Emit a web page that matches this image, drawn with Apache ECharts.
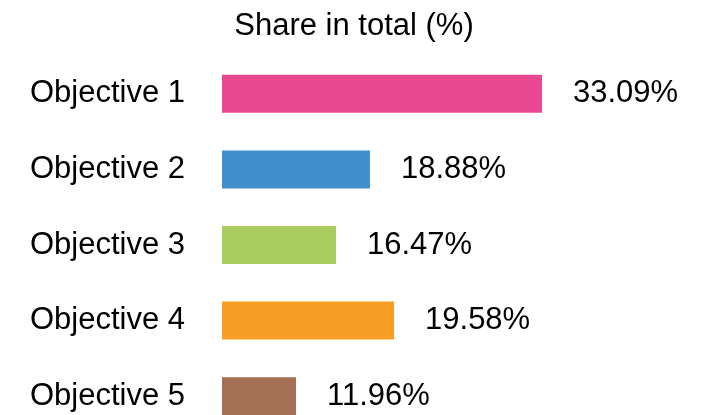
<!DOCTYPE html>
<html>
<head>
<meta charset="utf-8">
<script src="https://cdn.jsdelivr.net/npm/echarts@6/dist/echarts.min.js"></script>
<style>
  html, body { margin: 0; padding: 0; background: #fff; overflow: hidden; }
  /* taller than the window: the last bar is cut off at the bottom edge */
  #chart { width: 708px; height: 440px; }
</style>
</head>
<body>
<div id="chart"></div>
<script>
const categories = ["Objective 1", "Objective 2", "Objective 3", "Objective 4", "Objective 5"];
// bar lengths as drawn in the picture (same scale as Objective 1)
const barValues = [33.09, 15.3, 11.79, 17.79, 7.65];
// printed share labels
const shareLabels = ["33.09%", "18.88%", "16.47%", "19.58%", "11.96%"];
const barColors = ["#e8488f", "#418fcb", "#aacb5e", "#f89e24", "#a36f55"];

const chart = echarts.init(document.getElementById("chart"));
const font = "'Liberation Sans', Arial, sans-serif";

chart.setOption({
  animation: false,
  title: {
    text: "Share in total (%)",
    left: "center",
    top: 6,
    textStyle: { fontFamily: font, fontSize: 31, fontWeight: "normal", color: "#000" },
  },
  grid: { left: 222, width: 320, top: 56, height: 378, containLabel: false },
  xAxis: {
    type: "value",
    min: 0,
    max: 33.09,
    show: false,
  },
  yAxis: {
    type: "category",
    inverse: true,
    data: categories,
    axisLine: { show: false },
    axisTick: { show: false },
    axisLabel: { margin: 37, fontFamily: font, fontSize: 31, color: "#000" },
  },
  series: [
    {
      type: "bar",
      barWidth: 38,
      data: barValues.map((v, i) => ({ value: v, itemStyle: { color: barColors[i] } })),
      label: {
        show: true,
        position: "right",
        distance: 31,
        fontFamily: font,
        fontSize: 31,
        color: "#000",
        formatter: (p) => shareLabels[p.dataIndex],
      },
    },
  ],
});
</script>
</body>
</html>
